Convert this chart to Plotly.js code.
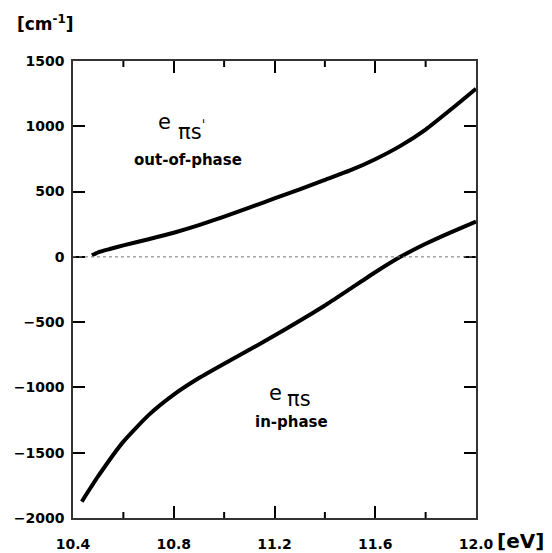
<!DOCTYPE html>
<html>
<head>
<meta charset="utf-8">
<script src="https://cdn.plot.ly/plotly-3.0.1.min.js"></script>
<style>html,body{margin:0;padding:0;background:#fff;}#chart{width:552px;height:553px;}</style>
</head>
<body>
<div id="chart"></div>
<script>
// Photon energy [eV] and coupling values [cm^-1]
const xOutOfPhase = [10.475, 10.5, 10.55, 10.6, 10.7, 10.8, 10.9, 11.0, 11.1, 11.2, 11.3, 11.4, 11.5, 11.6, 11.7, 11.8, 11.9, 12.0];
const yOutOfPhase = [12, 35, 62, 88, 135, 185, 243, 308, 377, 447, 517, 590, 662, 748, 850, 975, 1128, 1288];

const xInPhase = [10.435, 10.5, 10.6, 10.7, 10.8, 10.9, 11.0, 11.1, 11.2, 11.3, 11.4, 11.5, 11.6, 11.7, 11.8, 11.9, 12.0];
const yInPhase = [-1874, -1680, -1415, -1212, -1055, -928, -818, -712, -603, -490, -372, -245, -118, 0, 100, 188, 270];

// Tick values
const xMajorTicks = [10.4, 10.8, 11.2, 11.6, 12.0];
const xMinorTicks = [10.6, 11.0, 11.4, 11.8];
const yTicks = [-2000, -1500, -1000, -500, 0, 500, 1000, 1500];

const tickFont = {family: 'DejaVu Sans', size: 14, color: '#000', weight: 'bold'};
const lineStyle = {color: '#000', width: 4, shape: 'spline', smoothing: 0.5};
const tickLine = {color: '#000', width: 2};

const traces = [
  {x: xOutOfPhase, y: yOutOfPhase, mode: 'lines', line: lineStyle},
  {x: xInPhase, y: yInPhase, mode: 'lines', line: lineStyle}
];

// Minor / top tick marks through the axis scales (data position, pixel length)
function xTick(v, len, top) {
  return {type: 'line', xref: 'x', x0: v, x1: v, yref: 'paper', ysizemode: 'pixel',
          yanchor: top ? 1 : 0, y0: 0, y1: top ? -len : len, line: tickLine};
}

const shapes = [
  {type: 'line', xref: 'paper', x0: 0, x1: 1, yref: 'y', y0: 0, y1: 0,
   line: {color: '#777', width: 1, dash: 'dot'}}
]
  .concat(xMinorTicks.map(v => xTick(v, 6, false)))
  .concat(xMinorTicks.map(v => xTick(v, 6, true)));

const layout = {
  width: 552, height: 553,
  margin: {l: 73, r: 76, t: 61, b: 35},
  showlegend: false,
  xaxis: {
    range: [10.4, 12.0], tickvals: xMajorTicks, ticktext: xMajorTicks.map(v => v.toFixed(1)),
    ticks: 'inside', ticklen: 12, tickwidth: 2, tickcolor: '#000',
    showgrid: false, zeroline: false,
    showline: true, linecolor: '#333', linewidth: 1.5, mirror: 'ticks',
    tickfont: tickFont, ticklabelstandoff: 12
  },
  yaxis: {
    range: [-2000, 1500], tickvals: yTicks,
    ticks: 'inside', ticklen: 12, tickwidth: 2, tickcolor: '#000',
    showgrid: false, zeroline: false,
    showline: true, linecolor: '#333', linewidth: 1.5, mirror: 'ticks',
    tickfont: tickFont, ticklabelstandoff: 4
  },
  shapes: shapes,
  annotations: [
    {xref: 'x', yref: 'y', x: 10.765, y: 1030, text: 'e', showarrow: false,
     xanchor: 'center', yanchor: 'middle', font: {family: 'DejaVu Sans', size: 21, color: '#000'}},
    {xref: 'x', yref: 'y', x: 10.81, y: 975, text: 'πs<sup>ˈ</sup>', showarrow: false,
     xanchor: 'left', yanchor: 'middle', font: {family: 'DejaVu Sans', size: 21, color: '#000'}},
    {xref: 'x', yref: 'y', x: 10.857, y: 742, text: 'out-of-phase', showarrow: false,
     xanchor: 'center', yanchor: 'middle', font: {family: 'DejaVu Sans', size: 15, color: '#000', weight: 'bold'}},
    {xref: 'x', yref: 'y', x: 11.202, y: -1040, text: 'e', showarrow: false,
     xanchor: 'center', yanchor: 'middle', font: {family: 'DejaVu Sans', size: 21, color: '#000'}},
    {xref: 'x', yref: 'y', x: 11.242, y: -1085, text: 'πs', showarrow: false,
     xanchor: 'left', yanchor: 'middle', font: {family: 'DejaVu Sans', size: 21, color: '#000'}},
    {xref: 'x', yref: 'y', x: 11.269, y: -1263, text: 'in-phase', showarrow: false,
     xanchor: 'center', yanchor: 'middle', font: {family: 'DejaVu Sans', size: 15, color: '#000', weight: 'bold'}},
    {xref: 'paper', yref: 'paper', x: -0.144, y: 1.083, text: '[cm<sup>-1</sup>]', showarrow: false,
     xanchor: 'left', yanchor: 'middle', font: {family: 'DejaVu Sans', size: 17, color: '#000', weight: 'bold'}},
    {xref: 'paper', yref: 'paper', x: 1.047, y: -0.05, text: '[eV]', showarrow: false,
     xanchor: 'left', yanchor: 'middle', font: {family: 'DejaVu Sans', size: 20, color: '#000', weight: 'bold'}}
  ]
};

Plotly.newPlot('chart', traces, layout, {displayModeBar: false});
</script>
</body>
</html>
